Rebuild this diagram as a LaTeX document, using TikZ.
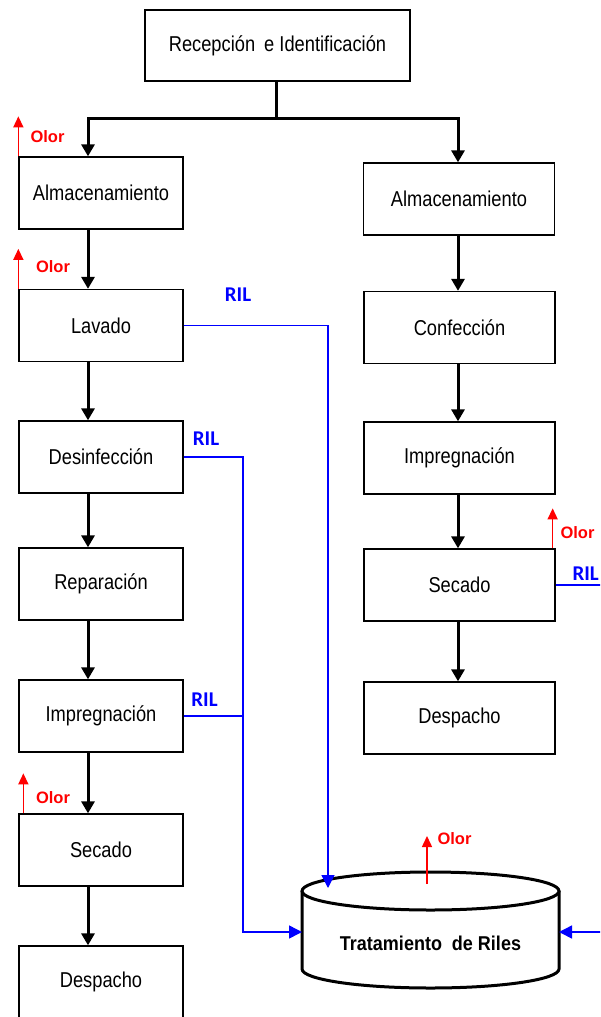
\documentclass[tikz,border=0pt]{standalone}
\usepackage{fontspec}
\setmainfont{Liberation Sans}
\newfontfamily\narrowfont[FakeStretch=0.85]{Liberation Sans}
\newfontfamily\cyltextfont[FakeStretch=0.9]{Liberation Sans}
\newfontfamily\carlito{Carlito}
\usetikzlibrary{arrows.meta,calc}

\tikzset{
 procbox/.style={draw=black, line width=1.3pt, minimum height=72pt, inner sep=0pt, font=\narrowfont\fontsize{21.5}{25}\selectfont},
 leftbox/.style={procbox, minimum width=164pt},
 rightbox/.style={procbox, minimum width=191pt},
 flow/.style={line width=3pt, -{Triangle[width=13pt,length=12pt]}},
 flowline/.style={line width=3pt},
 olorarrow/.style={red, line width=1.5pt, -{Triangle[width=10pt,length=11pt]}},
 olortxt/.style={text=red, font=\bfseries\fontsize{16.5}{18}\selectfont, inner sep=0pt},
 ril/.style={blue, line width=1.5pt},
 rilarrow/.style={ril, -{Triangle[width=13pt,length=13pt]}},
 riltxt/.style={text=blue, font=\carlito\bfseries\fontsize{21}{24}\selectfont, inner sep=0pt},
 cylline/.style={line width=3pt, fill=white},
 cyltxt/.style={font=\cyltextfont\bfseries\fontsize{20}{24}\selectfont, inner sep=0pt},
}

\begin{document}
\begin{tikzpicture}[x=1pt,y=-1pt]
\clip (0,0) rectangle (600,1017);
\fill[white] (0,0) rectangle (600,1017);

% boxes
\node[procbox, minimum width=265pt, minimum height=71pt] (rec) at (277.5,45.5) {Recepción\hspace{4pt} e Identificación};
\node[leftbox] (almL) at (101,193) {Almacenamiento};
\node[leftbox] (lav) at (101,325.5) {Lavado};
\node[leftbox] (des) at (101,457) {Desinfección};
\node[leftbox] (rep) at (101,584) {Reparación};
\node[leftbox] (impL) at (101,716) {Impregnación};
\node[leftbox] (secL) at (101,850) {Secado};
\node[leftbox] (despL) at (101,982) {Despacho};

\node[rightbox] (almR) at (459,199) {Almacenamiento};
\node[rightbox] (conf) at (459.5,327.5) {Confección};
\node[rightbox] (impR) at (459.5,458) {Impregnación};
\node[rightbox] (secR) at (459.5,585) {Secado};
\node[rightbox] (despR) at (459.5,718) {Despacho};

% black flow
\coordinate (cl) at (88,0);
\coordinate (cr) at (458,0);
\coordinate (jn) at (276,118);
\draw[flowline] (rec.south -| jn) -- (jn);
\draw[flow] (jn) -| (almL.north -| cl);
\draw[flow] (jn) -| (almR.north -| cr);
\foreach \a/\b in {almL/lav, lav/des, des/rep, rep/impL, impL/secL, secL/despL}
  \draw[flow] (\a.south -| cl) -- (\b.north -| cl);
\foreach \a/\b in {almR/conf, conf/impR, impR/secR, secR/despR}
  \draw[flow] (\a.south -| cr) -- (\b.north -| cr);

% cylinder
\draw[cylline] (302,891) -- (302,969) arc[start angle=180, end angle=0, x radius=128.5, y radius=19] -- (559,891);
\draw[cylline] (430.5,891) ellipse [x radius=128.5, y radius=19];
\node[minimum width=257pt, minimum height=78pt, inner sep=0pt, outer sep=0pt] (cyl) at (430.5,932) {};
\node[cyltxt] (cyllabel) at (430.5,943) {Tratamiento\hspace{5pt} de Riles};

% RIL lines
\coordinate (cyltop) at (328,888);
\coordinate (bus) at (243,0);
\coordinate (edge) at (605,0);
\coordinate (rin) at (605,932);
\draw[rilarrow] (lav.east) -| (cyltop);
\draw[rilarrow] (des.east) -| (bus |- cyl.west) -- (cyl.west);
\draw[ril] (impL.east) -- (impL.east -| bus);
\draw[ril] (secR.east) -- (secR.east -| edge);
\draw[rilarrow] (rin) -- (cyl.east);
\node[riltxt] (r1) at (238,295) {RIL};
\node[riltxt] (r2) at (206,439) {RIL};
\node[riltxt] (r3) at (204.5,700) {RIL};
\node[riltxt, anchor=east] (r4) at (599,574) {RIL};

% Olor
\coordinate (cylo) at (427,884);
\draw[olorarrow] (almL.north west) -- ++(0,-40);
\draw[olorarrow] (lav.north west) -- ++(0,-40);
\draw[olorarrow] ($(secL.north west)+(5,0)$) -- ++(0,-40);
\draw[olorarrow] ($(secR.north east)+(-3,0)$) -- ++(0,-40);
\draw[olorarrow] (cylo) -- ++(0,-48);
\node[olortxt] (o1) at (47.5,137) {Olor};
\node[olortxt] (o2) at (53,267) {Olor};
\node[olortxt] (o3) at (53,798) {Olor};
\node[olortxt] (o4) at (577.5,533) {Olor};
\node[olortxt] (o5) at (454.5,839) {Olor};
\end{tikzpicture}
\end{document}
